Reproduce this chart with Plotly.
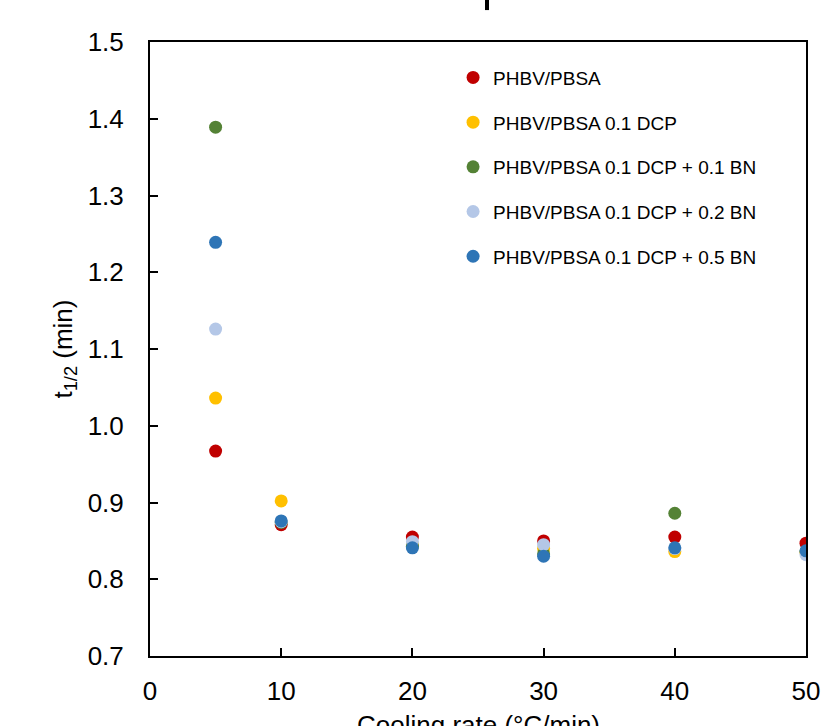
import plotly.graph_objects as go

cooling_rate = [5, 10, 20, 30, 40, 50]

series_names = [
    "PHBV/PBSA",
    "PHBV/PBSA 0.1 DCP",
    "PHBV/PBSA 0.1 DCP + 0.1 BN",
    "PHBV/PBSA 0.1 DCP + 0.2 BN",
    "PHBV/PBSA 0.1 DCP + 0.5 BN",
]
t_half_phbv_pbsa = [0.967, 0.871, 0.855, 0.850, 0.855, 0.847]
t_half_dcp = [1.036, 0.902, 0.845, 0.840, 0.836, 0.835]
t_half_dcp_01bn = [1.389, 0.874, 0.843, 0.833, 0.886, 0.836]
t_half_dcp_02bn = [1.126, 0.875, 0.849, 0.845, 0.840, 0.832]
t_half_dcp_05bn = [1.239, 0.876, 0.841, 0.830, 0.841, 0.837]

colors = ["#C00000", "#FFC000", "#548235", "#B4C7E7", "#2E75B6"]
all_series = [t_half_phbv_pbsa, t_half_dcp, t_half_dcp_01bn, t_half_dcp_02bn, t_half_dcp_05bn]

x_ticks = [0, 10, 20, 30, 40, 50]
y_ticks = [0.7, 0.8, 0.9, 1.0, 1.1, 1.2, 1.3, 1.4, 1.5]
x_title = "Cooling rate (°C/min)"
y_title = "t<sub>1/2</sub> (min)"

FONT = "Liberation Sans, Arial, sans-serif"

fig = go.Figure()
for i, (name, vals, col) in enumerate(zip(series_names, all_series, colors)):
    fig.add_trace(go.Scatter(
        x=cooling_rate, y=vals, mode="markers", name=name,
        legendgroup=f"g{i}",
        marker=dict(color=col, size=13, line=dict(width=0)),
    ))

fig.update_layout(
    width=830, height=726,
    margin=dict(l=150, r=24, t=42, b=70, autoexpand=False),
    paper_bgcolor="white", plot_bgcolor="white",
    font=dict(family=FONT, color="black"),
    showlegend=True,
    legend=dict(
        x=0.462, y=0.973, xanchor="left", yanchor="top",
        font=dict(family=FONT, size=19, color="black"),
        tracegroupgap=17, bgcolor="rgba(0,0,0,0)",
        itemwidth=30,
    ),
    xaxis=dict(
        range=[0, 50], tickvals=x_ticks, ticktext=[str(v) for v in x_ticks],
        ticks="inside", ticklen=8, tickwidth=2, tickcolor="black",
        showline=True, linecolor="black", linewidth=2, mirror=True,
        showgrid=False, zeroline=False,
        tickfont=dict(family=FONT, size=26, color="black"),
        ticklabelstandoff=11,
        automargin=False,
    ),
    yaxis=dict(
        range=[0.7, 1.5], tickvals=y_ticks, ticktext=[f"{v:.1f}" for v in y_ticks],
        ticks="inside", ticklen=8, tickwidth=2, tickcolor="black",
        showline=True, linecolor="black", linewidth=2, mirror=True,
        showgrid=False, zeroline=False,
        tickfont=dict(family=FONT, size=26, color="black"),
        ticklabelstandoff=19,
        title=dict(text=y_title, font=dict(family=FONT, size=26, color="black"), standoff=8),
        automargin=False,
    ),
)

# x-axis title (sits partly below the visible page, as in the reference)
fig.add_annotation(
    text=x_title, xref="paper", yref="paper", x=0.5, y=-0.0847,
    xanchor="center", yanchor="top", showarrow=False,
    font=dict(family=FONT, size=26, color="black"),
)

fig.add_shape(type="line", xref="paper", yref="paper",
              x0=0.5137, x1=0.5137, y0=1.052, y1=1.07,
              line=dict(color="black", width=4))

fig.write_html("out.html", config={"displayModeBar": False},
               post_script="document.body.style.margin='0';")
